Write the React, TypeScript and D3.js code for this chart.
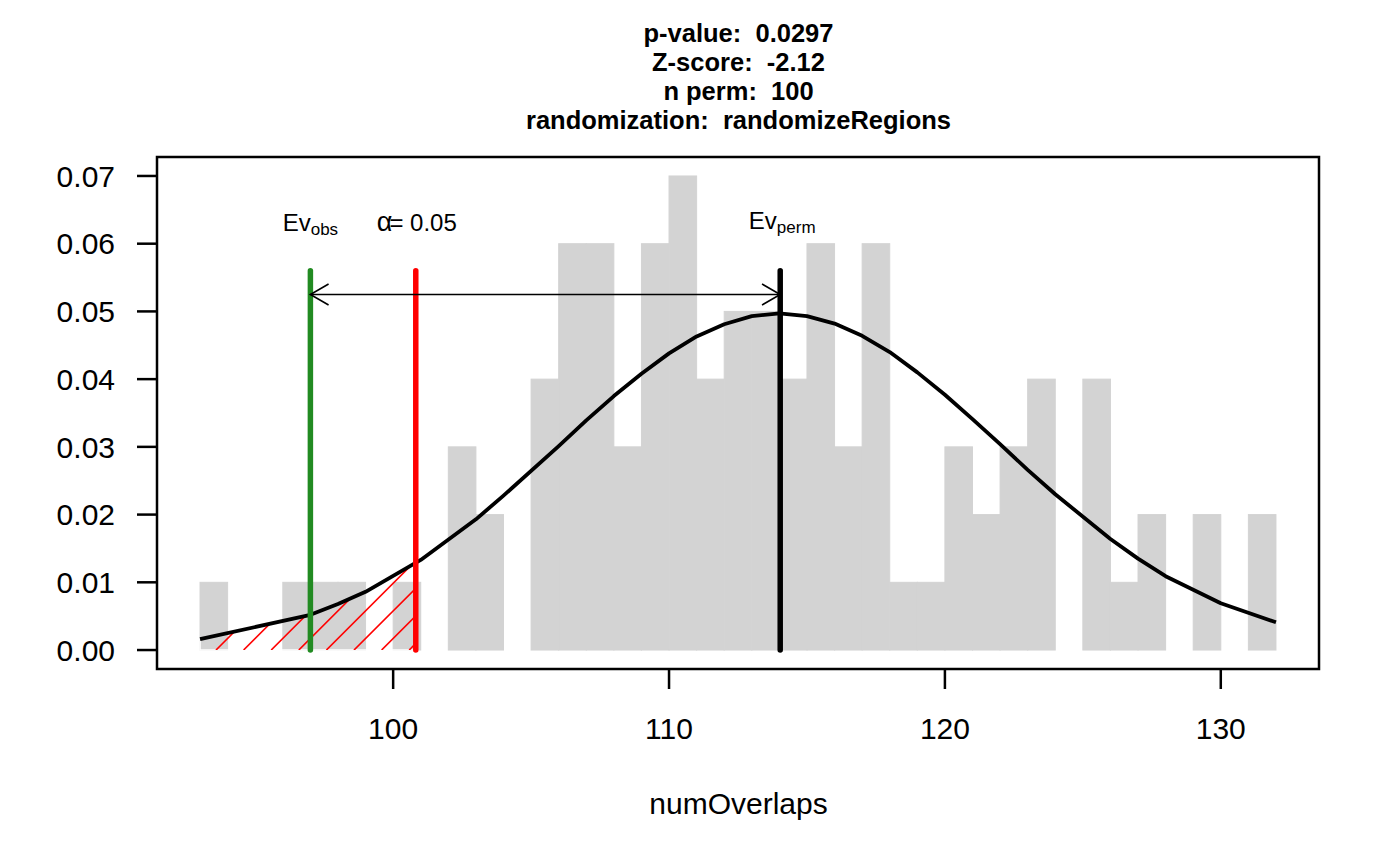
import React from 'react';
import * as d3 from 'd3';

// histogram of permuted numOverlaps (bins of width 1, density)
const binStarts = [93, 94, 95, 96, 97, 98, 99, 100, 101, 102, 103, 104, 105, 106, 107, 108, 109, 110, 111, 112,
  113, 114, 115, 116, 117, 118, 119, 120, 121, 122, 123, 124, 125, 126, 127, 128, 129, 130, 131];
const binDensity = [0.01, 0, 0, 0.01, 0.01, 0.01, 0, 0.01, 0, 0.03, 0.02, 0, 0.04, 0.06, 0.06, 0.03, 0.06, 0.07, 0.04, 0.05,
  0.05, 0.04, 0.06, 0.03, 0.06, 0.01, 0.01, 0.03, 0.02, 0.03, 0.04, 0, 0.04, 0.01, 0.02, 0, 0.02, 0, 0.02];

// fitted normal curve, read at the permuted values
const curveX = [93, 97, 98, 99, 101, 103, 104, 106, 107, 108, 109, 110, 111, 112, 113, 114, 115, 116, 117, 118,
  119, 120, 121, 122, 123, 124, 126, 127, 128, 130, 132];
const curveY = [0.0016, 0.0052, 0.0068, 0.0086, 0.0133, 0.0193, 0.0228, 0.0301, 0.0339, 0.0375, 0.0408, 0.0438,
  0.0463, 0.0481, 0.0493, 0.0497, 0.0493, 0.0482, 0.0464, 0.044, 0.041, 0.0377, 0.0341, 0.0304, 0.0266, 0.023,
  0.0164, 0.0135, 0.0109, 0.0069, 0.0041];

const evObs = 97;
const evPerm = 114.03;
const alphaX = 100.82;
const alphaY = 0.0128;
const lineTop = 0.056;
const arrowY = 0.0525;

const xTicks = [100, 110, 120, 130];
const yTicks = [0, 0.01, 0.02, 0.03, 0.04, 0.05, 0.06, 0.07];
const titleLines = ['p-value:  0.0297', 'Z-score:  -2.12', 'n perm:  100', 'randomization:  randomizeRegions'];

const FONT = '"Liberation Sans", Arial, Helvetica, sans-serif';

const App: React.FC = () => {
  const W = 1400;
  const H = 865;
  const box = { left: 157, right: 1319, top: 157, bottom: 669 };

  const x = d3.scaleLinear().domain([91.44, 133.56]).range([box.left, box.right]);
  const y = d3.scaleLinear().domain([-0.0028, 0.0728]).range([box.bottom, box.top]);

  const curvePts: [number, number][] = curveX.map((v, i) => [v, curveY[i]]);
  const line = d3.line<[number, number]>().x(d => x(d[0])).y(d => y(d[1]));

  // hatched tail polygon (under the curve, left of alpha)
  const tail: [number, number][] = [
    [curveX[0], 0],
    ...curvePts.filter(d => d[0] <= alphaX),
    [alphaX, alphaY],
    [alphaX, 0],
  ];
  const tailPath = line(tail) + 'Z';

  const hatchStep = 27.6;
  const hatch = d3.range(-3, 12).map(k => 216 + k * hatchStep);
  const y0 = y(0);

  const arrow = (tipX: number, dir: number) => {
    const len = 21;
    const ang = Math.PI / 6;
    const ty = y(arrowY);
    const dx = len * Math.cos(ang) * dir;
    const dy = len * Math.sin(ang);
    return `M${tipX + dx},${ty - dy}L${tipX},${ty}L${tipX + dx},${ty + dy}`;
  };

  return (
    <svg width={W} height={H} style={{ position: 'absolute', left: 0, top: 0, background: '#fff' }}
      fontFamily={FONT}>
      <rect width={W} height={H} fill="#fff" />
      <defs>
        <clipPath id="tailClip">
          <path d={tailPath} />
        </clipPath>
      </defs>

      {/* title */}
      {titleLines.map((t, i) => (
        <text key={t} x={738.5} y={42 + i * 29} textAnchor="middle" fontWeight="bold" fontSize={25.5}
          style={{ whiteSpace: 'pre' }}>{t}</text>
      ))}

      {/* histogram */}
      {binStarts.map((b, i) => (
        <rect key={b} x={x(b)} width={x(b + 1) - x(b)} y={y(binDensity[i])}
          height={Math.max(0, y(0) - y(binDensity[i]))} fill="lightgray" stroke="lightgray" strokeWidth={1} />
      ))}

      {/* hatched area */}
      <path d={tailPath} fill="none" stroke="#fff" strokeWidth={1.5} />
      <g clipPath="url(#tailClip)">
        {hatch.map(h => (
          <line key={h} x1={h} y1={y0} x2={h + 120} y2={y0 - 120} stroke="red" strokeWidth={1.6} />
        ))}
      </g>

      {/* normal curve */}
      <path d={line(curvePts) || ''} fill="none" stroke="#000" strokeWidth={3.8} strokeLinejoin="round" />

      {/* vertical markers */}
      <line x1={x(evObs)} x2={x(evObs)} y1={y(0)} y2={y(lineTop)} stroke="forestgreen" strokeWidth={5.5} strokeLinecap="round" />
      <line x1={x(alphaX)} x2={x(alphaX)} y1={y(0)} y2={y(lineTop)} stroke="red" strokeWidth={5.5} strokeLinecap="round" />
      <line x1={x(evPerm)} x2={x(evPerm)} y1={y(0)} y2={y(lineTop)} stroke="#000" strokeWidth={5.5} strokeLinecap="round" />

      {/* double arrow */}
      <g stroke="#000" strokeWidth={1.6} fill="none">
        <line x1={x(evObs)} x2={x(evPerm)} y1={y(arrowY)} y2={y(arrowY)} />
        <path d={arrow(x(evObs), 1)} />
        <path d={arrow(x(evPerm), -1)} />
      </g>

      {/* labels */}
      <text x={x(evObs)} y={231} textAnchor="middle" fontSize={24}>
        Ev<tspan fontSize={17} dy={4}>obs</tspan>
      </text>
      <text x={x(alphaX) + 1} y={231} textAnchor="middle" fontSize={24}>
        <tspan fontSize={27}>α</tspan><tspan dx={-3}>= 0.05</tspan>
      </text>
      <text x={x(evPerm) + 2} y={229} textAnchor="middle" fontSize={24}>
        Ev<tspan fontSize={17} dy={4}>perm</tspan>
      </text>

      {/* box */}
      <rect x={box.left} y={box.top} width={box.right - box.left} height={box.bottom - box.top}
        fill="none" stroke="#000" strokeWidth={2.5} />

      {/* y axis */}
      {yTicks.map(t => (
        <g key={t}>
          <line x1={box.left - 20} x2={box.left} y1={y(t)} y2={y(t)} stroke="#000" strokeWidth={2.5} />
          <text x={115} y={y(t)} dy="0.36em" textAnchor="end" fontSize={30}>{t.toFixed(2)}</text>
        </g>
      ))}

      {/* x axis */}
      {xTicks.map(t => (
        <g key={t}>
          <line x1={x(t)} x2={x(t)} y1={box.bottom} y2={box.bottom + 20} stroke="#000" strokeWidth={2.5} />
          <text x={x(t)} y={739} textAnchor="middle" fontSize={30}>{t}</text>
        </g>
      ))}
      <text x={738.5} y={814} textAnchor="middle" fontSize={30}>numOverlaps</text>
    </svg>
  );
};

export default App;
